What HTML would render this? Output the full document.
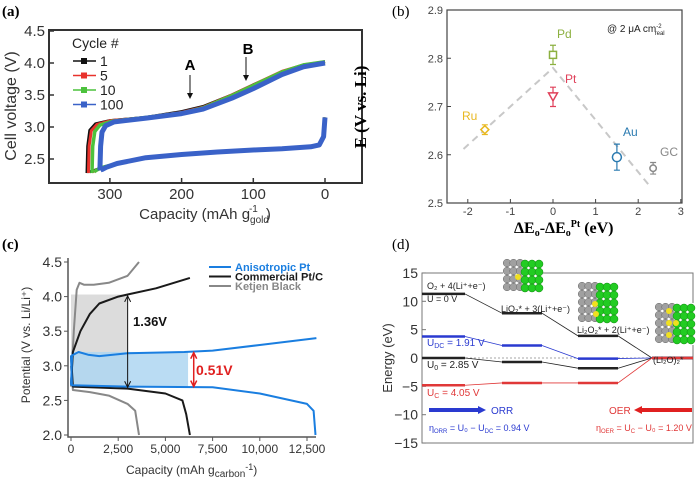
<!DOCTYPE html>
<html><head><meta charset="utf-8">
<style>
html,body{margin:0;padding:0;background:#fff;}
svg{display:block;font-family:"Liberation Sans",sans-serif;}
</style></head>
<body>
<svg id="fig" width="700" height="480" viewBox="0 0 700 480" xmlns="http://www.w3.org/2000/svg"></svg>
<script>
// ---------- Panel (a) data ----------
const aCycles = ["1","5","10","100"];
const aColors = ["#111111","#e8322c","#4cc23c","#3a62c8"];
const aChargeCap = [
 [332,331,328,320,300,250,200,170,130,100,60,30,0],
 [330,329,326,318,299,250,200,170,130,100,60,30,0],
 [325,324,321,314,297,249,200,170,130,100,60,30,0],
 [314,313,311,306,294,248,200,170,130,100,60,30,0]];
const aChargeV = [
 [2.28,2.7,2.95,3.05,3.1,3.15,3.24,3.32,3.5,3.66,3.86,3.96,4.02],
 [2.28,2.7,2.94,3.04,3.1,3.15,3.23,3.31,3.5,3.66,3.87,3.97,4.02],
 [2.28,2.7,2.93,3.03,3.09,3.15,3.22,3.3,3.49,3.65,3.86,3.97,4.02],
 [2.32,2.7,2.92,3.02,3.08,3.14,3.21,3.28,3.45,3.6,3.82,3.94,4.0]];
const aDisCap = [
 [0,2,8,20,60,100,150,200,250,290,310,322,328],
 [0,2,8,20,60,100,150,200,250,290,310,320,325],
 [0,2,8,20,60,100,150,200,250,290,310,318,322],
 [0,2,8,20,60,100,150,200,250,290,305,310,313]];
const aDisV = [
 [3.15,2.85,2.72,2.69,2.66,2.64,2.61,2.57,2.52,2.43,2.37,2.32,2.3],
 [3.15,2.85,2.72,2.69,2.66,2.64,2.61,2.57,2.52,2.43,2.37,2.32,2.3],
 [3.15,2.85,2.72,2.69,2.66,2.64,2.61,2.57,2.52,2.43,2.37,2.33,2.3],
 [3.15,2.85,2.72,2.69,2.66,2.64,2.61,2.57,2.52,2.43,2.37,2.34,2.33]];
const aXTicks = [0,100,200,300];
const aYTicks = [2.5,3.0,3.5,4.0,4.5];

// ---------- Panel (b) data ----------
const bLabels = ["Ru","Pd","Pt","Au","GC"];
const bX = [-1.6,0,0,1.5,2.35];
const bY = [2.652,2.807,2.72,2.595,2.572];
const bErr = [0.01,0.02,0.02,0.027,0.012];
const bColors = ["#e8b820","#8cb040","#e0405a","#2a7ab0","#888888"];
const bLineX = [-2.1,0,2.3];
const bLineY = [2.612,2.78,2.532];
const bXTicks = [-2,-1,0,1,2,3];
const bYTicks = [2.5,2.6,2.7,2.8,2.9];

// ---------- Panel (c) data ----------
const cSeries = ["Anisotropic Pt","Commercial Pt/C","Ketjen Black"];
const cColors = ["#1a7ee0","#1a1a1a","#888888"];
const cChargeCap = [
 [0,60,400,900,1500,3000,6000,7500,10000,13000],
 [0,100,500,1000,1500,2500,3000,4500,6300],
 [0,150,300,450,700,1200,2000,3000,3600]];
const cChargeV = [
 [2.72,3.15,3.2,3.16,3.14,3.18,3.2,3.22,3.3,3.4],
 [2.72,3.2,3.5,3.75,3.9,4.0,4.03,4.12,4.27],
 [2.7,3.5,4.1,4.2,4.17,4.17,4.2,4.3,4.5]];
const cDisCap = [
 [0,50,3000,7500,10000,12500,12850,12950],
 [0,100,3000,5000,5900,6100,6300],
 [0,100,1000,2000,3000,3400,3600]];
const cDisV = [
 [3.15,2.72,2.7,2.69,2.6,2.45,2.35,2.0],
 [3.15,2.7,2.67,2.6,2.5,2.3,2.0],
 [3.0,2.65,2.62,2.57,2.45,2.35,2.0]];
const cXTicks = [0,2500,5000,7500,10000,12500];
const cXTickLabels = ["0","2,500","5,000","7,500","10,000","12,500"];
const cYTicks = [2.0,2.5,3.0,3.5,4.0,4.5];

// ---------- Panel (d) data ----------
const dLevelsTop = [11.3,7.9,3.9,0];
const dLevelsBlue = [3.8,2.2,-0.1,0];
const dLevelsU0 = [0,-0.7,-1.8,0];
const dLevelsRed = [-4.8,-4.4,-4.4,0];
const dYTicks = [-15,-10,-5,0,5,10,15];

const NS = "http://www.w3.org/2000/svg";
const svg = document.getElementById("fig");
function mk(tag, attrs, parent){
  const e = document.createElementNS(NS, tag);
  for (const k in attrs) e.setAttribute(k, attrs[k]);
  (parent || svg).appendChild(e);
  return e;
}
function named(el, n, inter){
  
  
  return el;
}
function txt(x,y,s,attrs,name){
  const t = mk("text", Object.assign({x:x,y:y}, attrs||{}));
  t.textContent = s;
  named(t, name);
  return t;
}
function path(pts){ return pts.map((p,i)=>(i?"L":"M")+p[0].toFixed(1)+" "+p[1].toFixed(1)).join(""); }

// ================= Panel (a) =================
const xa = c => 325 - c*0.717;
const ya = v => 63 + (4.0 - v)*64;
txt(2,16,"(a)",{"font-family":"Liberation Serif,serif","font-size":"15","font-weight":"bold"},"panel-a-label");
const gA = named(mk("g",{}), "panel-a-chart");
named(mk("rect",{x:49,y:30,width:313,height:153,fill:"none",stroke:"#333","stroke-width":2},gA),"panel-a-frame");
aXTicks.forEach(t=>{
  named(mk("line",{x1:xa(t),x2:xa(t),y1:183,y2:178,stroke:"#333","stroke-width":1.5},gA),"a-x-tick");
  txt(xa(t),199,String(t),{"font-size":"15","text-anchor":"middle",fill:"#333"},"a-x-tick-label");
});
aYTicks.forEach(t=>{
  named(mk("line",{x1:49,x2:54,y1:ya(t),y2:ya(t),stroke:"#333","stroke-width":1.5},gA),"a-y-tick");
  txt(45,ya(t)+5,t.toFixed(1),{"font-size":"15","text-anchor":"end",fill:"#333"},"a-y-tick-label");
});
const aw = [3,3,3.5,5];
aCycles.forEach((c,i)=>{
  const ch = aChargeCap[i].map((cp,j)=>[xa(cp),ya(aChargeV[i][j])]);
  const ds = aDisCap[i].map((cp,j)=>[xa(cp),ya(aDisV[i][j])]);
  const p1 = mk("path",{d:path(ch),fill:"none",stroke:aColors[i],"stroke-width":aw[i],"stroke-linejoin":"round"},gA);
  
  
  const p2 = mk("path",{d:path(ds),fill:"none",stroke:aColors[i],"stroke-width":aw[i],"stroke-linejoin":"round"},gA);
  
  
  const ly = 61 + i*14.5;
  named(mk("line",{x1:73,x2:96,y1:ly,y2:ly,stroke:aColors[i],"stroke-width":1.5},gA),"legend-line-cycle-"+c);
  named(mk("rect",{x:81,y:ly-3,width:6,height:6,fill:aColors[i]},gA),"legend-marker-cycle-"+c);
  txt(100,ly+5,c,{"font-size":"14",fill:"#222"},"legend-entry-cycle-"+c);
});
txt(72,48,"Cycle #",{"font-size":"14",fill:"#222"},"legend-title");
txt(190,70,"A",{"font-size":"15","font-weight":"bold","text-anchor":"middle"},"marker-a-label");
named(mk("line",{x1:190,x2:190,y1:75,y2:98,stroke:"#111","stroke-width":1},gA),"marker-a-arrow");
named(mk("path",{d:"M187 93L190 99L193 93Z",fill:"#111"},gA),"marker-a-arrowhead");
txt(248,54,"B",{"font-size":"15","font-weight":"bold","text-anchor":"middle"},"marker-b-label");
named(mk("line",{x1:246,x2:246,y1:57,y2:80,stroke:"#111","stroke-width":1},gA),"marker-b-arrow");
named(mk("path",{d:"M243 75L246 81L249 75Z",fill:"#111"},gA),"marker-b-arrowhead");
txt(16,106,"Cell voltage (V)",{"font-size":"16","text-anchor":"middle",transform:"rotate(-90 16 106)",fill:"#333"},"a-y-axis-title");
const axt = txt(205,219,"Capacity (mAh g",{"font-size":"15","text-anchor":"middle",fill:"#333"},"a-x-axis-title");
const s1 = mk("tspan",{dy:"4","font-size":"10"},axt); s1.textContent="gold";
const s2 = mk("tspan",{dx:"-20",dy:"-11","font-size":"10"},axt); s2.textContent="-1";
const s3 = mk("tspan",{dx:"8",dy:"7"},axt); s3.textContent=")";

// ================= Panel (b) =================
const xb = e => 553 + e*42.6;
const yb = v => 203 - (v-2.5)*482.5;
txt(392,16,"(b)",{"font-family":"Liberation Serif,serif","font-size":"15"},"panel-b-label");
const gB = named(mk("g",{}), "panel-b-chart");
named(mk("rect",{x:447,y:10,width:235,height:193,fill:"none",stroke:"#444","stroke-width":1.2},gB),"panel-b-frame");
bXTicks.forEach(t=>{
  named(mk("line",{x1:xb(t),x2:xb(t),y1:203,y2:199,stroke:"#444"},gB),"b-x-tick");
  txt(xb(t),215,String(t),{"font-size":"11","text-anchor":"middle",fill:"#444"},"b-x-tick-label");
});
bYTicks.forEach(t=>{
  named(mk("line",{x1:447,x2:451,y1:yb(t),y2:yb(t),stroke:"#444"},gB),"b-y-tick");
  txt(443,yb(t)+4,t.toFixed(1),{"font-size":"11","text-anchor":"end",fill:"#444"},"b-y-tick-label");
});
named(mk("path",{d:path(bLineX.map((x,i)=>[xb(x),yb(bLineY[i])])),fill:"none",stroke:"#c8c8c8","stroke-width":2,"stroke-dasharray":"7,5"},gB),"trend-dashed-line");
const shapes = ["diamond","square","triangle","hex","circle"];
bLabels.forEach((l,i)=>{
  const cx = xb(bX[i]), cy = yb(bY[i]), col = bColors[i];
  const eb = mk("path",{d:`M${cx} ${yb(bY[i]-bErr[i])}V${yb(bY[i]+bErr[i])}M${cx-3} ${yb(bY[i]-bErr[i])}h6M${cx-3} ${yb(bY[i]+bErr[i])}h6`,stroke:col,"stroke-width":1.2,fill:"none"},gB);
  
  
  let m;
  if (shapes[i]==="diamond") m = mk("path",{d:`M${cx} ${cy-4}L${cx+4} ${cy}L${cx} ${cy+4}L${cx-4} ${cy}Z`},gB);
  else if (shapes[i]==="square") m = mk("rect",{x:cx-3.5,y:cy-3.5,width:7,height:7},gB);
  else if (shapes[i]==="triangle") m = mk("path",{d:`M${cx-4.5} ${cy-4}L${cx+4.5} ${cy-4}L${cx} ${cy+4}Z`},gB);
  else if (shapes[i]==="hex") m = mk("circle",{cx:cx,cy:cy,r:4.5},gB);
  else m = mk("circle",{cx:cx,cy:cy,r:3.2},gB);
  m.setAttribute("fill","#fff"); m.setAttribute("stroke",col); m.setAttribute("stroke-width","1.5");
  
  
});
txt(462,120,"Ru",{"font-size":"12",fill:bColors[0]},"label-ru");
txt(557,38,"Pd",{"font-size":"12",fill:bColors[1]},"label-pd");
txt(565,83,"Pt",{"font-size":"12",fill:bColors[2]},"label-pt");
txt(623,136,"Au",{"font-size":"12",fill:bColors[3]},"label-au");
txt(660,156,"GC",{"font-size":"12",fill:bColors[4]},"label-gc");
const ann = txt(607,32,"@ 2 μA cm",{"font-size":"10",fill:"#222"},"current-density-note");
const an1 = mk("tspan",{dy:"-4","font-size":"6"},ann); an1.textContent="-2";
const an2 = mk("tspan",{dx:"-7",dy:"7","font-size":"6"},ann); an2.textContent="real";
txt(366,107,"E (V vs. Li)",{"font-family":"Liberation Serif,serif","font-size":"17","font-weight":"bold","text-anchor":"middle",transform:"rotate(-90 366 107)"},"b-y-axis-title");
const bxt = txt(514,233,"ΔE",{"font-family":"Liberation Serif,serif","font-size":"16","font-weight":"bold"},"b-x-axis-title");
const b1 = mk("tspan",{dy:"3","font-size":"10"},bxt); b1.textContent="o";
const b2 = mk("tspan",{dy:"-3"},bxt); b2.textContent="-ΔE";
const b3 = mk("tspan",{dy:"3","font-size":"10"},bxt); b3.textContent="o";
const b4 = mk("tspan",{dy:"-9","font-size":"10"},bxt); b4.textContent="Pt";
const b5 = mk("tspan",{dy:"6"},bxt); b5.textContent=" (eV)";

// ================= Panel (c) =================
const xc = c => 71 + c*0.01888;
const yc = v => 435 - (v-2)*69.2;
txt(2,249,"(c)",{"font-family":"Liberation Serif,serif","font-size":"15","font-weight":"bold"},"panel-c-label");
const gC = named(mk("g",{}), "panel-c-chart");
named(mk("rect",{x:xc(0),y:yc(4.03),width:xc(3000)-xc(0),height:yc(2.7)-yc(4.03),fill:"#dcdcdc"},gC),"overpotential-shade-ptc");
named(mk("rect",{x:xc(0),y:yc(3.2),width:xc(6200)-xc(0),height:yc(2.7)-yc(3.2),fill:"#aed6f1",opacity:0.85},gC),"overpotential-shade-aniso");
named(mk("path",{d:"M68 258V437H316",fill:"none",stroke:"#555","stroke-width":1.5},gC),"panel-c-axes");
cXTicks.forEach((t,i)=>{
  named(mk("line",{x1:xc(t),x2:xc(t),y1:437,y2:441,stroke:"#555"},gC),"c-x-tick");
  txt(xc(t),453,cXTickLabels[i],{"font-size":"12","text-anchor":"middle",fill:"#333"},"c-x-tick-label");
});
cYTicks.forEach(t=>{
  named(mk("line",{x1:64,x2:68,y1:yc(t),y2:yc(t),stroke:"#555"},gC),"c-y-tick");
  txt(62,yc(t)+5,t.toFixed(1),{"font-size":"14","text-anchor":"end",fill:"#333"},"c-y-tick-label");
});
[2,1,0].forEach(i=>{
  const ch = cChargeCap[i].map((cp,j)=>[xc(cp),yc(cChargeV[i][j])]);
  const ds = cDisCap[i].map((cp,j)=>[xc(cp),yc(cDisV[i][j])]);
  const p1 = mk("path",{d:path(ch),fill:"none",stroke:cColors[i],"stroke-width":2,"stroke-linejoin":"round"},gC);
  
  
  const p2 = mk("path",{d:path(ds),fill:"none",stroke:cColors[i],"stroke-width":2,"stroke-linejoin":"round"},gC);
  
  
});
cSeries.forEach((s,i)=>{
  const ly = 267 + i*9.5;
  named(mk("line",{x1:209,x2:231,y1:ly,y2:ly,stroke:cColors[i],"stroke-width":2},gC),"legend-line-"+i);
  txt(235,ly+4,s,{"font-size":"11","font-weight":"bold",fill:cColors[i]},"legend-entry-"+i);
});
named(mk("line",{x1:xc(3000),x2:xc(3000),y1:yc(4.01),y2:yc(2.69),stroke:"#111","stroke-width":1},gC),"gap-arrow-1-36");
named(mk("path",{d:`M${xc(3000)-3} ${yc(4.01)+6}L${xc(3000)} ${yc(4.01)}L${xc(3000)+3} ${yc(4.01)+6}M${xc(3000)-3} ${yc(2.69)-6}L${xc(3000)} ${yc(2.69)}L${xc(3000)+3} ${yc(2.69)-6}`,fill:"none",stroke:"#111"},gC),"gap-arrow-1-36-heads");
txt(133,326,"1.36V",{"font-size":"13","font-weight":"bold",fill:"#111"},"gap-label-1-36");
named(mk("line",{x1:xc(6500),x2:xc(6500),y1:yc(3.19),y2:yc(2.7),stroke:"#e02020","stroke-width":1.5},gC),"gap-arrow-0-51");
named(mk("path",{d:`M${xc(6500)-3} ${yc(3.19)+6}L${xc(6500)} ${yc(3.19)}L${xc(6500)+3} ${yc(3.19)+6}M${xc(6500)-3} ${yc(2.7)-6}L${xc(6500)} ${yc(2.7)}L${xc(6500)+3} ${yc(2.7)-6}`,fill:"none",stroke:"#e02020","stroke-width":1.5},gC),"gap-arrow-0-51-heads");
txt(196,375,"0.51V",{"font-size":"14","font-weight":"bold",fill:"#e02020"},"gap-label-0-51");
txt(30,345,"Potential (V vs. Li/Li⁺)",{"font-size":"12","text-anchor":"middle",transform:"rotate(-90 30 345)",fill:"#333"},"c-y-axis-title");
const cxt = txt(126,474,"Capacity  (mAh g",{"font-size":"12",fill:"#333"},"c-x-axis-title");
const c1 = mk("tspan",{dy:"3","font-size":"10"},cxt); c1.textContent="carbon";
const c2 = mk("tspan",{dy:"-7","font-size":"9"},cxt); c2.textContent="-1";
const c3 = mk("tspan",{dy:"4"},cxt); c3.textContent=")";

// ================= Panel (d) =================
const yd = e => 358 - e*5.67;
const dSegX = [[422,465],[502,542],[578,618],[652,693]];
txt(392,249,"(d)",{"font-family":"Liberation Serif,serif","font-size":"15"},"panel-d-label");
const gD = named(mk("g",{}), "panel-d-chart");
named(mk("rect",{x:422,y:273,width:271,height:170,fill:"none",stroke:"#777","stroke-width":1},gD),"panel-d-frame");
named(mk("line",{x1:422,x2:693,y1:yd(0),y2:yd(0),stroke:"#888","stroke-width":0.8,"stroke-dasharray":"2,2"},gD),"zero-line");
dYTicks.forEach(t=>{
  named(mk("line",{x1:422,x2:426,y1:yd(t),y2:yd(t),stroke:"#777"},gD),"d-y-tick");
  txt(418,yd(t)+5,t<0?"−"+Math.abs(t):String(t),{"font-size":"14","text-anchor":"end",fill:"#333"},"d-y-tick-label");
});
function levels(arr, col, nm){
  for (let i=0;i<arr.length;i++){
    const l = mk("line",{x1:dSegX[i][0],x2:dSegX[i][1],y1:yd(arr[i]),y2:yd(arr[i]),stroke:col,"stroke-width":2.5},gD);
    
    
    if (i<arr.length-1){
      const c = mk("line",{x1:dSegX[i][1],x2:dSegX[i+1][0],y1:yd(arr[i]),y2:yd(arr[i+1]),stroke:col,"stroke-width":0.8},gD);
      
      
    }
  }
}
levels(dLevelsTop,"#222","u0v");
levels(dLevelsBlue,"#2a3ad0","udc");
levels(dLevelsU0,"#222","ueq");
levels(dLevelsRed,"#e03838","uc");
function slab(x,y,rows,name,yel){
  const g = named(mk("g",{},gD), name);
  named(mk("rect",{x:x,y:y,width:40,height:rows*8+2,fill:"#fff"},g),name+"-bg");
  for(let r=0;r<rows;r++){for(let c=0;c<3;c++){mk("circle",{cx:x+4+c*6.5,cy:y+4+r*8,r:3.8,fill:"#a0a0a0",stroke:"#666","stroke-width":0.5},g);}}
  for(let r=0;r<rows;r++){for(let c=0;c<3;c++){mk("circle",{cx:x+22+c*7,cy:y+5+r*8,r:4,fill:"#22cc22",stroke:"#118811","stroke-width":0.5},g);}}
  yel.forEach(p=>mk("circle",{cx:x+p[0],cy:y+p[1],r:3,fill:"#f0e020"},g));
}
slab(503,259,4,"structure-lio2",[[15,18]]);
slab(578,282,5,"structure-li2o2",[[17,22],[18,32]]);
slab(655,303,5,"structure-li2o",[[14,8],[14,20],[21,20],[14,32]]);
txt(427,289,"O₂ + 4(Li⁺+e⁻)",{"font-size":"9",fill:"#222"},"state-o2");
txt(427,302,"U = 0 V",{"font-size":"9",fill:"#222"},"state-u0");
txt(501,312,"LiO₂* + 3(Li⁺+e⁻)",{"font-size":"9",fill:"#222"},"state-lio2");
txt(577,333,"Li₂O₂* + 2(Li⁺+e⁻)",{"font-size":"9",fill:"#222"},"state-li2o2");
txt(653,363,"(Li₂O)₂*",{"font-size":"9",fill:"#222"},"state-li2o");
txt(427,346,"U",{"font-size":"10",fill:"#2a3ad0"},"label-udc").innerHTML='U<tspan font-size="7" dy="2">DC</tspan><tspan dy="-2"> = 1.91 V</tspan>';
txt(427,368,"U",{"font-size":"10",fill:"#222"},"label-ueq").innerHTML='U<tspan font-size="7" dy="2">0</tspan><tspan dy="-2"> = 2.85 V</tspan>';
txt(427,396,"U",{"font-size":"10",fill:"#e03838"},"label-uc").innerHTML='U<tspan font-size="7" dy="2">C</tspan><tspan dy="-2"> = 4.05 V</tspan>';
named(mk("line",{x1:429,x2:480,y1:410,y2:410,stroke:"#2a3ad0","stroke-width":4},gD),"orr-arrow");
named(mk("path",{d:"M478 406L486 410L478 414Z",fill:"#2a3ad0"},gD),"orr-arrowhead");
txt(491,414,"ORR",{"font-size":"10",fill:"#2a3ad0"},"orr-label");
named(mk("line",{x1:692,x2:640,y1:410,y2:410,stroke:"#e02020","stroke-width":4},gD),"oer-arrow");
named(mk("path",{d:"M642 406L634 410L642 414Z",fill:"#e02020"},gD),"oer-arrowhead");
txt(609,414,"OER",{"font-size":"10",fill:"#e03838"},"oer-label");
txt(429,431,"η",{"font-size":"9",fill:"#2a3ad0"},"eta-orr").innerHTML='η<tspan font-size="6" dy="2">ORR</tspan><tspan dy="-2"> = U₀ − U</tspan><tspan font-size="6" dy="2">DC</tspan><tspan dy="-2"> = 0.94 V</tspan>';
txt(596,431,"η",{"font-size":"9",fill:"#e03838"},"eta-oer").innerHTML='η<tspan font-size="6" dy="2">OER</tspan><tspan dy="-2"> = U</tspan><tspan font-size="6" dy="2">C</tspan><tspan dy="-2"> − U₀ = 1.20 V</tspan>';
txt(392,358,"Energy (eV)",{"font-size":"13","text-anchor":"middle",transform:"rotate(-90 392 358)",fill:"#333"},"d-y-axis-title");
</script>
</body></html>
